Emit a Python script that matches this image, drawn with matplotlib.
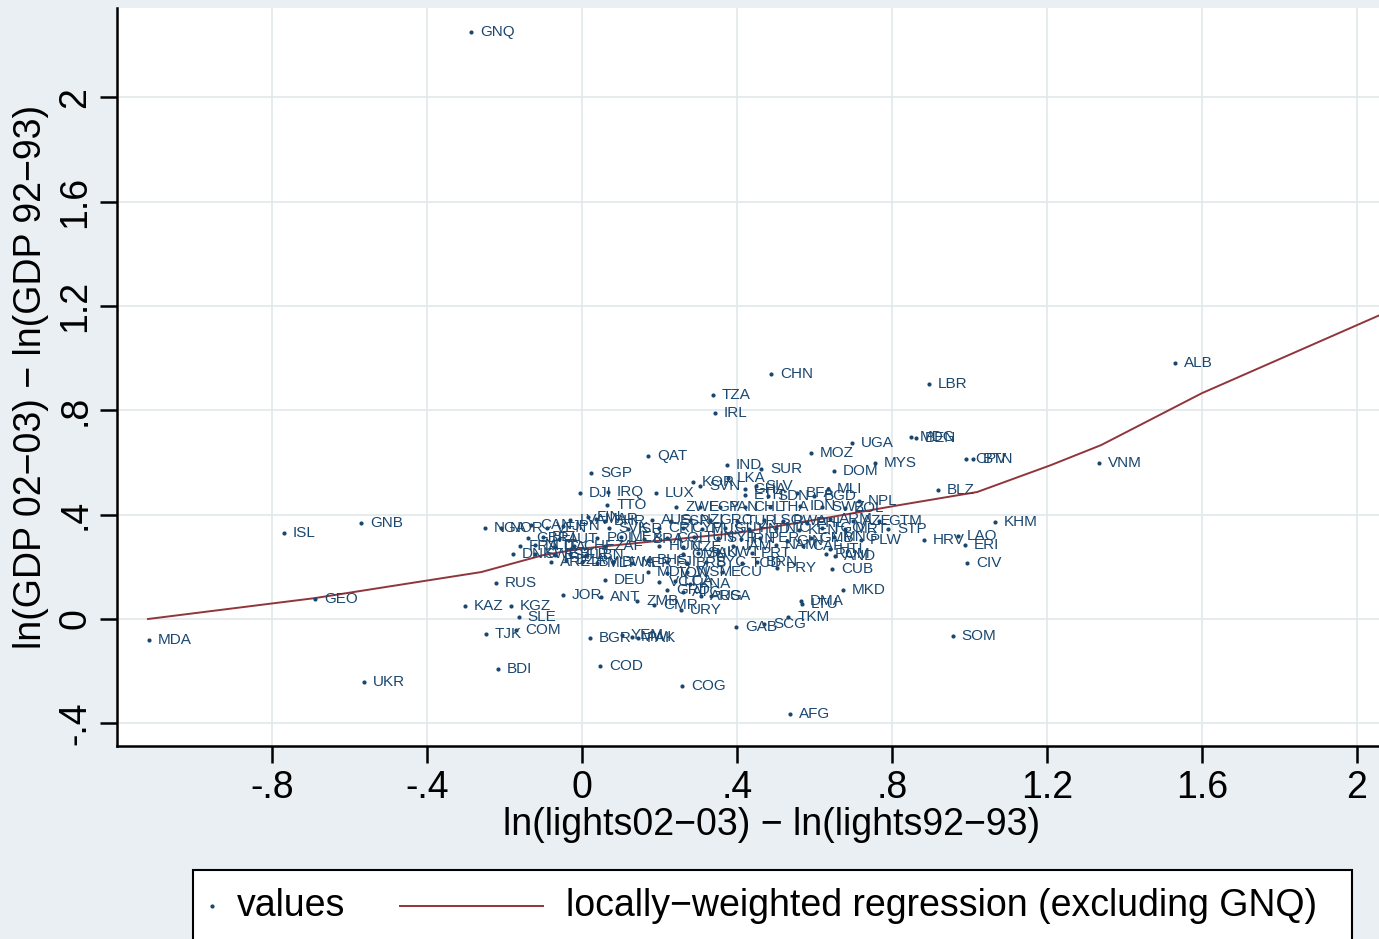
import matplotlib
matplotlib.use("Agg")
import matplotlib.pyplot as plt
from matplotlib.patches import Rectangle
from matplotlib.lines import Line2D

plt.rcParams['font.family'] = ['Liberation Sans', 'DejaVu Sans']

NAVY = '#1a476f'
MAROON = '#90353b'
OUTER = '#e9eff2'
GRID = '#e1e7ea'

# country code, ln(lights) change, ln(GDP) change
codes = [
    'GNQ', 'CHN', 'TZA', 'IRL', 'LBR', 'ALB', 'VNM', 'UGA', 'MDG', 'BEN',
    'CPV', 'BTN', 'MOZ', 'MYS', 'DOM', 'MLI', 'NPL', 'BLZ', 'GTM', 'STP',
    'KHM', 'HRV', 'LAO', 'ERI', 'CIV', 'PLW', 'ROM', 'AND', 'CUB', 'MKD',
    'DMA', 'LTU', 'TKM', 'GAB', 'SCG', 'SOM', 'AFG', 'COG', 'COD', 'BDI',
    'UKR', 'MDA', 'GEO', 'ISL', 'GNB', 'NGA', 'RUS', 'KAZ', 'KGZ', 'SLE',
    'TJK', 'COM', 'BGR', 'YEM', 'MWI', 'PAK', 'JOR', 'ANT', 'ZMB', 'CMR',
    'URY', 'ARG', 'USA', 'ECU', 'PRY', 'TCD', 'BRN', 'DEU', 'DNK', 'SGP',
    'DJI', 'IRQ', 'TTO', 'QAT', 'LUX', 'IND', 'SUR', 'KOR', 'LKA', 'BFA',
    'CAN', 'FIN', 'KWT', 'PRT', 'NER',
    'SVN', 'GHA', 'SLV', 'ETH', 'SDN', 'BGD',
    'ZWE', 'EGY', 'PAN', 'CHL', 'THA', 'IDN', 'SWZ', 'BOL',
    'LVA', 'MAR', 'BHR', 'AUS', 'ESP', 'NZL', 'GRC', 'TUR', 'LSO', 'RWA', 'PHL', 'ARM', 'AZE',
    'NOR', 'VEN', 'JPN', 'SVK', 'ISR', 'CRI', 'CYP', 'MUS', 'GUY', 'HND', 'NIC', 'KEN', 'TGO', 'MRT',
    'GBR', 'BEL', 'AUT', 'POL', 'MEX', 'BRA', 'COL', 'TUN', 'SYR', 'IRN', 'PER', 'GIN', 'GMB', 'MNG',
    'FRA', 'NLD', 'ITA', 'CHE', 'ZAF', 'HUN', 'CZE', 'JAM', 'NAM', 'CAF', 'HTI',
    'SWE', 'EST', 'BLR', 'LBN', 'OMN', 'SAU',
    'ARE', 'DZA', 'LBY', 'MLT', 'BWA', 'BHS', 'FJI', 'BRB', 'SYC',
    'MDV', 'TON', 'WSM', 'VCT', 'LCA', 'KNA', 'GRD', 'ATG',
]
lights = [
    -0.286, 0.488, 0.338, 0.343, 0.895, 1.530, 1.334, 0.697, 0.849, 0.862,
    0.991, 1.010, 0.591, 0.756, 0.650, 0.635, 0.715, 0.919, 0.766, 0.790,
    1.066, 0.883, 0.970, 0.988, 0.994, 0.720, 0.630, 0.652, 0.645, 0.674,
    0.565, 0.568, 0.532, 0.397, 0.470, 0.957, 0.537, 0.258, 0.046, -0.217,
    -0.563, -1.117, -0.689, -0.769, -0.570, -0.250, -0.222, -0.302, -0.183, -0.163,
    -0.248, -0.170, 0.021, 0.103, 0.129, 0.145, -0.049, 0.049, 0.142, 0.186,
    0.255, 0.307, 0.333, 0.361, 0.503, 0.413, 0.452, 0.059, -0.178, 0.023,
    -0.005, 0.067, 0.065, 0.170, 0.191, 0.374, 0.462, 0.286, 0.377, 0.555,
    -0.132, 0.015, 0.351, 0.439, 0.129,
    0.305, 0.420, 0.450, 0.420, 0.480, 0.600,
    0.243, 0.305, 0.356, 0.420, 0.485, 0.563, 0.620, 0.678,
    -0.030, 0.036, 0.060, 0.180, 0.230, 0.280, 0.330, 0.400, 0.470, 0.520, 0.580, 0.640, 0.700,
    -0.210, -0.090, -0.050, 0.070, 0.120, 0.200, 0.260, 0.310, 0.370, 0.430, 0.500, 0.560, 0.620, 0.680,
    -0.140, -0.100, -0.060, 0.040, 0.100, 0.160, 0.220, 0.290, 0.350, 0.410, 0.460, 0.530, 0.590, 0.650,
    -0.160, -0.120, -0.070, -0.020, 0.060, 0.200, 0.260, 0.390, 0.500, 0.570, 0.640,
    -0.120, -0.070, -0.030, 0.010, 0.260, 0.300,
    -0.080, -0.040, 0.000, 0.040, 0.080, 0.170, 0.220, 0.270, 0.320,
    0.170, 0.220, 0.270, 0.200, 0.240, 0.280, 0.220, 0.260,
]
gdp = [
    2.251, 0.939, 0.859, 0.790, 0.901, 0.982, 0.598, 0.675, 0.698, 0.694,
    0.613, 0.613, 0.636, 0.598, 0.567, 0.498, 0.452, 0.495, 0.376, 0.345,
    0.372, 0.303, 0.318, 0.284, 0.215, 0.303, 0.249, 0.242, 0.192, 0.111,
    0.069, 0.058, 0.008, -0.031, -0.019, -0.065, -0.364, -0.257, -0.180, -0.192,
    -0.242, -0.081, 0.077, 0.330, 0.368, 0.349, 0.138, 0.050, 0.050, 0.008,
    -0.058, -0.042, -0.073, -0.061, -0.069, -0.073, 0.092, 0.084, 0.069, 0.054,
    0.035, 0.088, 0.088, 0.180, 0.196, 0.215, 0.218, 0.150, 0.249, 0.560,
    0.483, 0.487, 0.437, 0.625, 0.483, 0.590, 0.575, 0.525, 0.541, 0.483,
    0.360, 0.391, 0.257, 0.253, 0.215,
    0.510, 0.500, 0.510, 0.475, 0.470, 0.470,
    0.430, 0.430, 0.430, 0.430, 0.430, 0.435, 0.430, 0.425,
    0.380, 0.385, 0.375, 0.380, 0.375, 0.380, 0.380, 0.375, 0.380, 0.375, 0.370, 0.385, 0.375,
    0.350, 0.350, 0.355, 0.350, 0.345, 0.350, 0.350, 0.345, 0.350, 0.345, 0.350, 0.340, 0.350, 0.345,
    0.310, 0.315, 0.305, 0.310, 0.315, 0.305, 0.310, 0.315, 0.310, 0.305, 0.310, 0.300, 0.310, 0.315,
    0.280, 0.285, 0.275, 0.280, 0.280, 0.280, 0.275, 0.280, 0.285, 0.280, 0.270,
    0.250, 0.245, 0.250, 0.245, 0.250, 0.255,
    0.220, 0.225, 0.220, 0.215, 0.220, 0.225, 0.220, 0.215, 0.220,
    0.180, 0.175, 0.180, 0.140, 0.145, 0.135, 0.110, 0.105,
]

# lowess fit (excluding GNQ)
lowess_x = [-1.12, -0.69, -0.26, -0.10, 0.0, 0.2, 0.4, 0.62, 0.82, 1.02, 1.21, 1.34, 1.6, 2.06, 2.2]
lowess_y = [0.0, 0.08, 0.18, 0.245, 0.27, 0.30, 0.33, 0.385, 0.437, 0.487, 0.59, 0.667, 0.866, 1.166, 1.26]

xticks = [-0.8, -0.4, 0, 0.4, 0.8, 1.2, 1.6, 2]
xlabels = ['-.8', '-.4', '0', '.4', '.8', '1.2', '1.6', '2']
yticks = [-0.4, 0, 0.4, 0.8, 1.2, 1.6, 2]
ylabels = ['-.4', '0', '.4', '.8', '1.2', '1.6', '2']

W, H = 1379, 939
FS = 27
fig = plt.figure(figsize=(W / 100, H / 100), dpi=100, facecolor=OUTER)
ax = fig.add_axes([117 / W, 1 - 746 / H, 1 - 117 / W, (746 - 8) / H])
ax.set_facecolor('white')

ax.plot(lowess_x, lowess_y, color=MAROON, lw=1.4, zorder=2)
ax.scatter(lights, gdp, s=9, color=NAVY, zorder=3, linewidths=0)
for c, xv, yv in zip(codes, lights, gdp):
    ax.annotate(c, (xv, yv), xytext=(6.5, 0), textcoords='offset points',
                va='center', ha='left', fontsize=11, color=NAVY, zorder=4,
                annotation_clip=False)

ax.set_xlim(-1.2, 2.057)
ax.set_ylim(-0.487, 2.343)
ax.set_xticks(xticks)
ax.set_xticklabels(xlabels)
ax.set_yticks(yticks)
ax.set_yticklabels(ylabels, rotation=90, va='center')
ax.grid(True, color=GRID, lw=1.2, zorder=0)
ax.set_axisbelow(True)
for s in ['top', 'right']:
    ax.spines[s].set_visible(False)
for s in ['left', 'bottom']:
    ax.spines[s].set_linewidth(1.8)
ax.tick_params(axis='both', direction='out', length=12, width=1.8, labelsize=FS, pad=5)

ax.set_xlabel('ln(lights02\u221203) \u2212 ln(lights92\u221293)', fontsize=FS, labelpad=4)
ax.xaxis.set_label_coords((772 - 117) / (W - 117), -0.083)
ax.set_ylabel('ln(GDP 02\u221203) \u2212 ln(GDP 92\u221293)', fontsize=FS, labelpad=6)

# legend box (bottom cut off by the figure edge)
fig.patches.append(Rectangle((193 / W, -0.05), (1352 - 193) / W, 0.05 + (939 - 870) / H,
                             transform=fig.transFigure, facecolor='white',
                             edgecolor='black', lw=1.5))
ly = 1 - 906 / H
fig.lines.append(Line2D([212 / W], [ly], marker='.', markersize=4, color=NAVY,
                        transform=fig.transFigure))
fig.text(237 / W, ly, 'values', fontsize=FS, va='center', ha='left')
fig.lines.append(Line2D([400 / W, 543 / W], [ly, ly], color=MAROON, lw=1.4,
                        transform=fig.transFigure))
fig.text(566 / W, ly, 'locally\u2212weighted regression (excluding GNQ)', fontsize=FS,
         va='center', ha='left')

fig.savefig('out.png', dpi=100, facecolor=OUTER)
